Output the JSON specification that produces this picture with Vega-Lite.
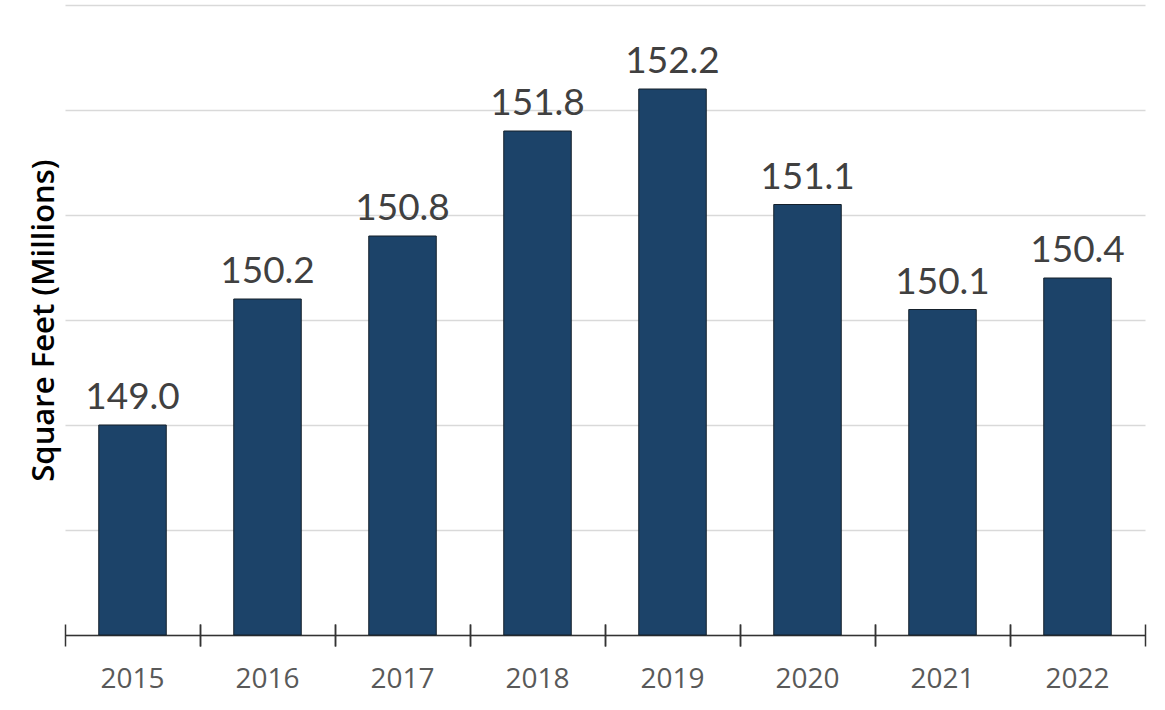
{
  "$schema": "https://vega.github.io/schema/vega-lite/v6.json",
  "width": 1080,
  "height": 630,
  "autosize": {"type": "none"},
  "padding": {"left": 65, "top": 5, "right": 20, "bottom": 75},
  "background": "white",
  "config": {"view": {"stroke": null}},
  "data": {
    "values": [
      {"year": "2015", "value": 149.0},
      {"year": "2016", "value": 150.2},
      {"year": "2017", "value": 150.8},
      {"year": "2018", "value": 151.8},
      {"year": "2019", "value": 152.2},
      {"year": "2020", "value": 151.1},
      {"year": "2021", "value": 150.1},
      {"year": "2022", "value": 150.4}
    ]
  },
  "resolve": {"axis": {"x": "independent"}},
  "layer": [
    {
      "mark": {"type": "bar", "fill": "#1c4369", "stroke": "#15202b", "strokeWidth": 1},
      "encoding": {
        "x": {
          "field": "year", "type": "nominal",
          "scale": {"paddingInner": 0.5, "paddingOuter": 0.25},
          "axis": {
            "orient": "bottom",
            "title": null, "labelAngle": 0, "ticks": false,
            "domain": true, "domainColor": "#333333", "domainWidth": 1.5,
            "labelFont": "Open Sans", "labelFontSize": 28, "labelColor": "#595959",
            "labelPadding": 30, "grid": false
          }
        },
        "y": {
          "field": "value", "type": "quantitative",
          "scale": {"domain": [147, 153], "zero": false, "nice": false},
          "axis": {
            "values": [147, 148, 149, 150, 151, 152, 153],
            "labels": false, "ticks": false, "domain": false,
            "grid": true, "gridColor": "#d9d9d9", "gridWidth": 1.5,
            "title": "Square Feet (Millions)",
            "titleFont": "Open Sans", "titleFontSize": 31, "titleFontWeight": 600,
            "titleColor": "#000000", "titlePadding": 5
          }
        },
        "y2": {"datum": 147}
      }
    },
    {
      "mark": {"type": "text", "font": "Lato", "fontSize": 37, "color": "#404040", "baseline": "alphabetic", "dy": -16},
      "encoding": {
        "x": {
          "field": "year", "type": "nominal",
          "axis": {
            "orient": "bottom",
            "title": null, "labels": false, "domain": false, "grid": false,
            "bandPosition": -0.5, "ticks": true, "tickSize": 22, "offset": -11,
            "tickColor": "#333333", "tickWidth": 1.5
          }
        },
        "y": {"field": "value", "type": "quantitative"},
        "text": {"field": "value", "type": "quantitative", "format": ".1f"}
      }
    },
    {
      "mark": {"type": "text", "opacity": 0, "font": "Lato", "fontSize": 37},
      "encoding": {
        "x": {
          "field": "year", "type": "nominal",
          "axis": {
            "orient": "bottom",
            "title": null, "labels": false, "domain": false, "grid": false,
            "bandPosition": 1.5, "ticks": true, "tickSize": 22, "offset": -11,
            "tickColor": "#333333", "tickWidth": 1.5
          }
        },
        "y": {"field": "value", "type": "quantitative"},
        "text": {"field": "value", "type": "quantitative", "format": ".1f"}
      }
    }
  ]
}
